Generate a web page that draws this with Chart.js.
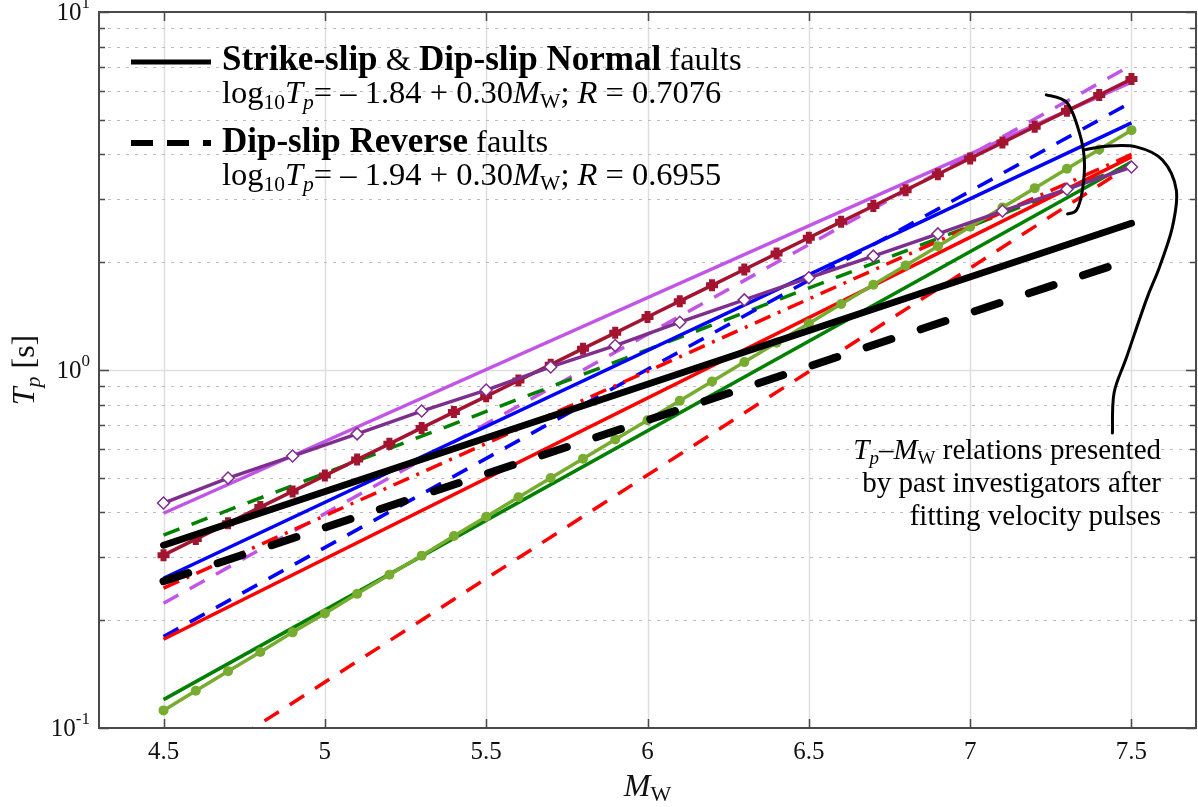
<!DOCTYPE html>
<html>
<head>
<meta charset="utf-8">
<script src="https://cdn.jsdelivr.net/npm/chart.js@4.4.1/dist/chart.umd.min.js"></script>
<style>
  html, body { margin: 0; padding: 0; background: #fff; }
  canvas { display: block; }
</style>
</head>
<body>
<canvas id="chart" width="1198" height="807"></canvas>
<script>
// magnitudes
const mwEnds = [4.5, 7.5];
const mwTenth = [4.5, 4.6, 4.7, 4.8, 4.9, 5.0, 5.1, 5.2, 5.3, 5.4, 5.5, 5.6, 5.7, 5.8, 5.9, 6.0,
                 6.1, 6.2, 6.3, 6.4, 6.5, 6.6, 6.7, 6.8, 6.9, 7.0, 7.1, 7.2, 7.3, 7.4, 7.5];
const mwFifth = [4.5, 4.7, 4.9, 5.1, 5.3, 5.5, 5.7, 5.9, 6.1, 6.3, 6.5, 6.7, 6.9, 7.1, 7.3, 7.5];

// this study (Tp in s at the two end magnitudes)
const strikeNormal = [0.324, 2.57];
const dipReverse = [0.257, 2.04];

// past investigators
const orchidSolid = [0.398, 6.37];
const orchidDashed = [0.223, 7.1];
const blueSolid = [0.262, 4.90];
const blueDashed = [0.180, 5.6];
const redSolid = [0.177, 3.94];
const redDashDot = [0.246, 4.0];
const redDashed = [0.069, 3.75];
const greenSolid = [0.120, 3.81];
const greenDashed = [0.346, 3.75];
const crimsonMarked = [0.304, 0.337, 0.373, 0.414, 0.458, 0.507, 0.562, 0.622, 0.689, 0.763, 0.844,
                       0.935, 1.035, 1.147, 1.270, 1.406, 1.557, 1.724, 1.909, 2.114, 2.341, 2.593,
                       2.871, 3.179, 3.521, 3.899, 4.318, 4.781, 5.296, 5.865, 6.494];
const oliveMarked = [0.112, 0.127, 0.144, 0.163, 0.185, 0.209, 0.237, 0.268, 0.303, 0.344, 0.389,
                     0.441, 0.499, 0.565, 0.640, 0.724, 0.820, 0.929, 1.052, 1.191, 1.349, 1.528,
                     1.730, 1.959, 2.218, 2.512, 2.844, 3.221, 3.648, 4.130, 4.677];
const purpleDiamond = [0.425, 0.499, 0.575, 0.663, 0.768, 0.879, 1.02, 1.17, 1.36, 1.57, 1.81,
                       2.08, 2.40, 2.78, 3.20, 3.69];

// axes
const xTicks = [4.5, 5, 5.5, 6, 6.5, 7, 7.5];
const xTickLabels = ['4.5', '5', '5.5', '6', '6.5', '7', '7.5'];
const yMajor = [0.1, 1, 10];
const yMajorExp = ['-1', '0', '1'];
const yMinor = [0.2, 0.3, 0.4, 0.5, 0.6, 0.7, 0.8, 0.9, 2, 3, 4, 5, 6, 7, 8, 9];

// annotation curves, in (Mw, Tp)
const bracketCurve = [[7.236, 5.87], [7.301, 5.57], [7.339, 4.59], [7.354, 3.86], [7.348, 3.18], [7.330, 2.80], [7.302, 2.73]];
const leaderCurve = [[7.354, 4.12], [7.423, 4.22], [7.515, 4.20], [7.596, 3.86], [7.639, 3.18], [7.627, 2.51],
                     [7.587, 1.94], [7.546, 1.57], [7.485, 1.087], [7.446, 0.863], [7.441, 0.667]];

const SERIF = '"Liberation Serif", "Times New Roman", serif';

const pts = (xs, ys) => xs.map((x, i) => ({ x: x, y: ys[i] }));

function line(data, color, width, dash, extra) {
    return Object.assign({
        data: data,
        borderColor: color,
        backgroundColor: color,
        borderWidth: width,
        borderDash: dash || [],
        pointRadius: 0,
        fill: false,
        tension: 0
    }, extra || {});
}

// draw a row of text pieces with different fonts
function drawRuns(ctx, x, y, runs, align) {
    let total = 0;
    runs.forEach(r => { ctx.font = r.font; total += ctx.measureText(r.t).width; });
    let cx = x;
    if (align === 'right') cx = x - total;
    if (align === 'center') cx = x - total / 2;
    ctx.textBaseline = 'alphabetic';
    ctx.textAlign = 'left';
    runs.forEach(r => {
        ctx.font = r.font;
        ctx.fillText(r.t, cx, y + (r.dy || 0));
        cx += ctx.measureText(r.t).width;
    });
}

function smoothPath(ctx, p) {
    ctx.beginPath();
    ctx.moveTo(p[0][0], p[0][1]);
    for (let i = 0; i < p.length - 1; i++) {
        const p0 = p[i - 1] || p[i], p1 = p[i], p2 = p[i + 1], p3 = p[i + 2] || p[i + 1];
        const c1x = p1[0] + (p2[0] - p0[0]) / 6, c1y = p1[1] + (p2[1] - p0[1]) / 6;
        const c2x = p2[0] - (p3[0] - p1[0]) / 6, c2y = p2[1] - (p3[1] - p1[1]) / 6;
        ctx.bezierCurveTo(c1x, c1y, c2x, c2y, p2[0], p2[1]);
    }
    ctx.stroke();
}

const gridPlugin = {
    id: 'grid',
    beforeDatasetsDraw(chart) {
        const { ctx, chartArea: a, scales: { x, y } } = chart;
        ctx.save();
        ctx.strokeStyle = '#dedede';
        ctx.lineWidth = 1.5;
        xTicks.forEach(v => {
            const px = Math.round(x.getPixelForValue(v)) + 0.5;
            ctx.beginPath(); ctx.moveTo(px, a.top); ctx.lineTo(px, a.bottom); ctx.stroke();
        });
        const p1 = Math.round(y.getPixelForValue(1)) + 0.5;
        ctx.beginPath(); ctx.moveTo(a.left, p1); ctx.lineTo(a.right, p1); ctx.stroke();
        ctx.strokeStyle = '#bdbdbd';
        ctx.lineWidth = 1;
        ctx.setLineDash([3, 6]);
        yMinor.forEach(v => {
            const py = Math.round(y.getPixelForValue(v)) + 0.5;
            ctx.beginPath(); ctx.moveTo(a.left, py); ctx.lineTo(a.right, py); ctx.stroke();
        });
        ctx.restore();
    }
};

const decorPlugin = {
    id: 'decor',
    afterDatasetsDraw(chart) {
        const { ctx, chartArea: a, scales: { x, y } } = chart;
        ctx.save();

        // box and ticks
        ctx.strokeStyle = '#4a4a4a';
        ctx.lineWidth = 2;
        ctx.strokeRect(a.left, a.top, a.right - a.left, a.bottom - a.top);
        ctx.lineWidth = 1.5;
        xTicks.forEach(v => {
            const px = Math.round(x.getPixelForValue(v)) + 0.5;
            ctx.beginPath();
            ctx.moveTo(px, a.bottom); ctx.lineTo(px, a.bottom - 9);
            ctx.moveTo(px, a.top); ctx.lineTo(px, a.top + 9);
            ctx.stroke();
        });
        yMajor.concat(yMinor).forEach(v => {
            const py = Math.round(y.getPixelForValue(v)) + 0.5;
            const len = yMajor.includes(v) ? 10 : 6;
            ctx.beginPath();
            ctx.moveTo(a.left, py); ctx.lineTo(a.left + len, py);
            ctx.moveTo(a.right, py); ctx.lineTo(a.right - len, py);
            ctx.stroke();
        });

        // tick labels
        ctx.fillStyle = '#111';
        ctx.font = '25px ' + SERIF;
        ctx.textAlign = 'center';
        ctx.textBaseline = 'alphabetic';
        xTicks.forEach((v, i) => ctx.fillText(xTickLabels[i], x.getPixelForValue(v), a.bottom + 31));
        yMajor.forEach((v, i) => {
            const py = y.getPixelForValue(v);
            drawRuns(ctx, 90, py + 8, [
                { t: '10', font: '25px ' + SERIF },
                { t: yMajorExp[i], font: '17px ' + SERIF, dy: -12 }
            ], 'right');
        });

        // axis titles
        drawRuns(ctx, (a.left + a.right) / 2, 796, [
            { t: 'M', font: 'italic 32px ' + SERIF },
            { t: 'W', font: '22px ' + SERIF, dy: 5 }
        ], 'center');
        ctx.save();
        ctx.translate(34, (a.top + a.bottom) / 2);
        ctx.rotate(-Math.PI / 2);
        drawRuns(ctx, 0, 0, [
            { t: 'T', font: 'italic 32px ' + SERIF },
            { t: 'p', font: 'italic 22px ' + SERIF, dy: 6 },
            { t: ' [s]', font: '32px ' + SERIF }
        ], 'center');
        ctx.restore();

        // legend
        ctx.strokeStyle = '#000';
        ctx.lineCap = 'butt';
        ctx.lineWidth = 5;
        ctx.beginPath(); ctx.moveTo(131, 62); ctx.lineTo(211, 62); ctx.stroke();
        ctx.lineWidth = 6;
        ctx.setLineDash([22, 14]);
        ctx.beginPath(); ctx.moveTo(131, 143); ctx.lineTo(211, 143); ctx.stroke();
        ctx.setLineDash([]);
        const B = 'bold 35px ' + SERIF, N = '32.5px ' + SERIF, I = 'italic 32.5px ' + SERIF;
        const S = '21.5px ' + SERIF, SI = 'italic 21.5px ' + SERIF;
        ctx.fillStyle = '#000';
        drawRuns(ctx, 222, 70, [
            { t: 'Strike-slip', font: B }, { t: ' & ', font: N },
            { t: 'Dip-slip Normal', font: B }, { t: ' faults', font: N }
        ]);
        const eq = (c, r) => [
            { t: 'log', font: N }, { t: '10', font: S, dy: 6 }, { t: 'T', font: I },
            { t: 'p', font: SI, dy: 6 }, { t: '= \u2013 ' + c + ' + 0.30', font: N },
            { t: 'M', font: I }, { t: 'W', font: S, dy: 5 }, { t: '; ', font: N },
            { t: 'R', font: I }, { t: ' = ' + r, font: N }
        ];
        drawRuns(ctx, 222, 103, eq('1.84', '0.7076'));
        drawRuns(ctx, 222, 152, [
            { t: 'Dip-slip Reverse', font: B }, { t: ' faults', font: N }
        ]);
        drawRuns(ctx, 222, 185, eq('1.94', '0.6955'));

        // annotation
        const toPx = c => [x.getPixelForValue(c[0]), y.getPixelForValue(c[1])];
        ctx.lineWidth = 3;
        ctx.lineCap = 'round';
        smoothPath(ctx, bracketCurve.map(toPx));
        smoothPath(ctx, leaderCurve.map(toPx));
        const AN = '29px ' + SERIF, AI = 'italic 29px ' + SERIF, AS = '19px ' + SERIF, ASI = 'italic 19px ' + SERIF;
        drawRuns(ctx, 1161, 459, [
            { t: 'T', font: AI }, { t: 'p', font: ASI, dy: 5 }, { t: '\u2013', font: AN },
            { t: 'M', font: AI }, { t: 'W', font: AS, dy: 5 }, { t: ' relations presented', font: AN }
        ], 'right');
        drawRuns(ctx, 1161, 492, [{ t: 'by past investigators after', font: AN }], 'right');
        drawRuns(ctx, 1161, 525, [{ t: 'fitting velocity pulses', font: AN }], 'right');

        ctx.restore();
    }
};

new Chart(document.getElementById('chart'), {
    type: 'line',
    data: {
        datasets: [
            line(pts(mwEnds, strikeNormal), '#000000', 7, [], { borderCapStyle: 'round' }),
            line(pts(mwEnds, dipReverse), '#000000', 8, [26, 31], { borderCapStyle: 'round' }),
            line(pts(mwFifth, purpleDiamond), '#7E2F8E', 3.5, [], {
                pointRadius: 6, pointStyle: 'rectRot', pointBackgroundColor: '#ffffff',
                pointBorderColor: '#7E2F8E', pointBorderWidth: 1.5
            }),
            line(pts(mwTenth, oliveMarked), '#77AC30', 3.5, [], {
                pointRadius: 5, pointStyle: 'circle', pointBackgroundColor: '#77AC30', pointBorderWidth: 0
            }),
            line(pts(mwTenth, crimsonMarked), '#A2142F', 3.5, [], {
                pointRadius: 6, pointStyle: 'cross', pointBorderColor: '#A2142F', pointBorderWidth: 6
            }),
            line(pts(mwEnds, redDashDot), '#FF0000', 3.5, [17, 8, 3, 8]),
            line(pts(mwEnds, redSolid), '#FF0000', 3.5),
            line(pts(mwEnds, redDashed), '#FF0000', 3.5, [17, 13], { clip: 0 }),
            line(pts(mwEnds, blueSolid), '#0000FF', 3.5),
            line(pts(mwEnds, blueDashed), '#0000FF', 3.5, [17, 13]),
            line(pts(mwEnds, greenSolid), '#008000', 3.5),
            line(pts(mwEnds, greenDashed), '#008000', 3.5, [17, 13]),
            line(pts(mwEnds, orchidSolid), '#C155E8', 3.5),
            line(pts(mwEnds, orchidDashed), '#C155E8', 3.5, [17, 13])
        ]
    },
    options: {
        responsive: false,
        animation: false,
        devicePixelRatio: 1,
        layout: { autoPadding: false, padding: { left: 99, right: 2, top: 12, bottom: 79 } },
        plugins: { legend: { display: false }, tooltip: { enabled: false } },
        scales: {
            x: { type: 'linear', min: 4.3, max: 7.7, display: false },
            y: { type: 'logarithmic', min: 0.1, max: 10, display: false }
        }
    },
    plugins: [gridPlugin, decorPlugin]
});
</script>
</body>
</html>
